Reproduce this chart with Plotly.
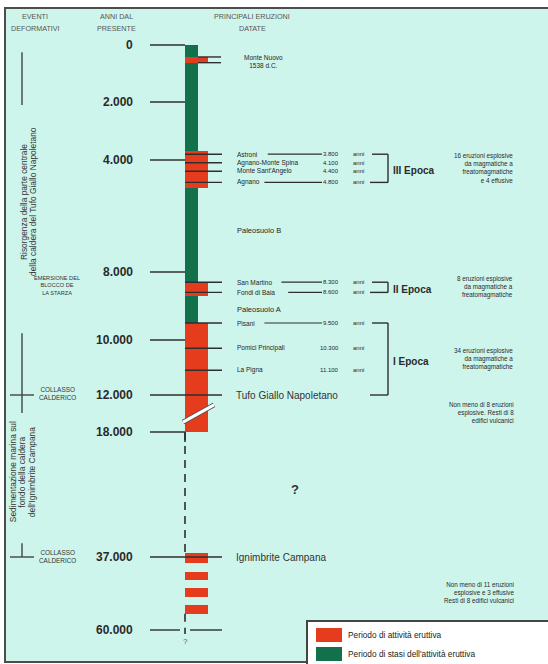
import numpy as np
import plotly.graph_objects as go

# ------------------------------------------------------------------ data
TICK_YEARS = [0, 2000, 4000, 8000, 10000, 12000, 18000, 37000, 60000]
TICK_LABELS = ["0", "2.000", "4.000", "8.000", "10.000", "12.000", "18.000", "37.000", "60.000"]

# periods of eruptive activity (years before present)
ACTIVE_START = [420, 3700, 8300, 9500, 36400, 41700, 46800, 52100]
ACTIVE_END = [620, 5000, 8700, 18000, 38900, 44200, 49600, 54900]
# periods of quiescence
STASIS_START = [0, 5000, 8700]
STASIS_END = [3700, 8300, 9500]

MONTE_NUOVO_YEARS = [420, 620]
MONTE_NUOVO_LABEL = "Monte Nuovo<br>1538 d.C."

ERUPTION_NAMES = ["Astroni", "Agnano-Monte Spina", "Monte Sant'Angelo", "Agnano",
                  "San Martino", "Fondi di Baia", "Pisani", "Pomici Principali", "La Pigna"]
ERUPTION_YEARS = [3800, 4100, 4400, 4800, 8300, 8600, 9500, 10300, 11100]
ERUPTION_YEAR_LABELS = ["3.800", "4.100", "4.400", "4.800", "8.300", "8.600",
                        "9.500", "10.300", "11.100"]
ERUPTION_LEADER = [True, False, False, True, True, True, True, False, False]

EPOCH_NAMES = ["III Epoca", "II Epoca", "I Epoca"]
EPOCH_START = [3800, 8300, 9500]
EPOCH_END = [4800, 8600, 12000]
EPOCH_NOTES = ["16 eruzioni esplosive<br>da magmatiche a<br>freatomagmatiche<br>e 4 effusive",
               "8 eruzioni esplosive<br>da magmatiche a<br>freatomagmatiche",
               "34 eruzioni esplosive<br>da magmatiche a<br>freatomagmatiche"]

KEY_UNITS = ["Tufo Giallo Napoletano", "Ignimbrite Campana"]
KEY_UNIT_YEARS = [12000, 37000]

PALEOSOL_NAMES = ["Paleosuolo B", "Paleosuolo A"]
PALEOSOL_YEARS = [6500, 9100]

OTHER_NOTES = ["Non meno di 8 eruzioni<br>esplosive. Resti di 8<br>edifici vulcanici",
               "Non meno di 11 eruzioni<br>esplosive e 3 effusive<br>Resti di 8 edifici vulcanici"]
OTHER_NOTE_YEARS = [14900, 48300]

DEFORM_NAMES = ["EMERSIONE DEL<br>BLOCCO DE<br>LA STARZA", "COLLASSO<br>CALDERICO", "COLLASSO<br>CALDERICO"]
DEFORM_YEARS = [8400, 11950, 36950]

PHASE_LINES = [["Risorgenza della parte centrale", "della caldera del Tufo Giallo Napoletano"],
               ["Sedimentazione marina sul", "fondo della caldera", "dell'Ignimbrite Campana"]]
PHASE_CENTER_YEARS = [5500, 24100]
PHASE_RANGE_START = [250, 9800, 34900]
PHASE_RANGE_END = [2100, 14900, 37000]
CROSS_YEARS = [12000, 37000]

UNKNOWN_YEAR = 26800
BREAK_YEARS = [16400, 13600]

HEADERS = [["EVENTI", "DEFORMATIVI"], ["ANNI DAL", "PRESENTE"], ["PRINCIPALI ERUZIONI", "DATATE"]]
LEGEND_LABELS = ["Periodo di attività eruttiva", "Periodo di stasi dell'attività eruttiva"]

# ------------------------------------------------------------------ style / scale
W, H = 548, 664
SCALE_PX = [45, 102, 160, 272, 340, 395, 432, 557, 630]   # vertical scale of the diagram
RED = "#e63c1e"
GREEN = "#12714b"
BG = "#cef5ec"
INK = "#2e2e2e"
FONT = "Liberation Sans, Arial, sans-serif"

COL_L = 185
GREEN_W = 13
RED_W = 23


def ypos(year):
    return float(np.interp(year, TICK_YEARS, SCALE_PX))


shapes = []
annotations = []


def line(x0, y0, x1, y1, color=INK, width=1.4, dash=None, layer="above"):
    ln = dict(color=color, width=width)
    if dash:
        ln["dash"] = dash
    shapes.append(dict(type="line", xref="x", yref="y", x0=x0, y0=y0, x1=x1, y1=y1,
                       line=ln, layer=layer))


def rect(x0, y0, x1, y1, fill, lc=None, lw=0, layer="above"):
    shapes.append(dict(type="rect", xref="x", yref="y", x0=x0, y0=y0, x1=x1, y1=y1,
                       fillcolor=fill, line=dict(color=lc or fill, width=lw), layer=layer))


def text(x, y, s, size, xanchor="left", bold=False, color=INK, angle=0, align="left"):
    annotations.append(dict(x=x, y=y, xref="x", yref="y", text=f"<b>{s}</b>" if bold else s,
                            showarrow=False, xanchor=xanchor, yanchor="middle",
                            font=dict(family=FONT, size=size, color=color),
                            textangle=angle, align=align, borderpad=0))


fig = go.Figure()

# background frame (open on the right side)
rect(5, 8, 560, 662, BG, "#4d4d4d", 2, layer="below")

# column bars
fig.add_trace(go.Bar(x=[COL_L + GREEN_W / 2] * len(STASIS_START),
                     base=[ypos(s) for s in STASIS_START],
                     y=[ypos(e) - ypos(s) for s, e in zip(STASIS_START, STASIS_END)],
                     width=[GREEN_W] * len(STASIS_START),
                     marker=dict(color=GREEN, line=dict(width=0)), hoverinfo="skip"))
fig.add_trace(go.Bar(x=[COL_L + RED_W / 2] * len(ACTIVE_START),
                     base=[ypos(s) for s in ACTIVE_START],
                     y=[ypos(e) - ypos(s) for s, e in zip(ACTIVE_START, ACTIVE_END)],
                     width=[RED_W] * len(ACTIVE_START),
                     marker=dict(color=RED, line=dict(width=0)), hoverinfo="skip"))

# headers
HEADER_X = [35, 116, 252]
for hx, (l1, l2) in zip(HEADER_X, HEADERS):
    text(hx, 16, l1, 7.2, xanchor="center", color="#555555")
    text(hx, 28, l2, 7.2, xanchor="center", color="#555555")

# time scale
for yr, lab in zip(TICK_YEARS, TICK_LABELS):
    y = ypos(yr)
    text(134, y, lab, 12, xanchor="right", bold=True, color="#2a2a2a")
    if yr in (12000, 37000):
        line(150, y, 222, y)
    elif yr == 60000:
        line(150, y, 180, y)
        line(190, y, 222, y)
    else:
        line(150, y, COL_L, y)

# dashed part of the column
line(COL_L, ypos(18000), COL_L, ypos(18000) + 10, width=1.6)
line(COL_L, ypos(18000), COL_L, ypos(ACTIVE_START[4]), width=1.6, dash="8px,6px")
line(COL_L, ypos(ACTIVE_END[-1]), COL_L, ypos(60000) + 4, width=1.6, dash="8px,6px")
text(COL_L, ypos(60000) + 11, "?", 8, xanchor="center", color="#555555")

# break mark
line(183, ypos(BREAK_YEARS[0]), 214, ypos(BREAK_YEARS[1]), color="#555555", width=5)
line(183, ypos(BREAK_YEARS[0]), 214, ypos(BREAK_YEARS[1]), color="white", width=3)

# Monte Nuovo
for yr in MONTE_NUOVO_YEARS:
    line(COL_L + GREEN_W, ypos(yr), 221, ypos(yr))
text(263, ypos(sum(MONTE_NUOVO_YEARS) / 2) + 1.5, MONTE_NUOVO_LABEL, 6.5,
     xanchor="center", align="center", color="#1e1e1e")

# eruptions
for name, yr, ylab, lead in zip(ERUPTION_NAMES, ERUPTION_YEARS, ERUPTION_YEAR_LABELS, ERUPTION_LEADER):
    y = ypos(yr)
    line(COL_L, y, 222, y)
    text(236, y, name, 6.5, color="#1e1e1e")
    if lead:
        line(236 + 3.4 * len(name) + 8, y, 322, y, width=1.2)
    text(340, y, ylab, 6, xanchor="right", color="#1e1e1e")
    text(352, y, "anni", 6, color="#1e1e1e")

# epochs with brackets
for name, s, e, note in zip(EPOCH_NAMES, EPOCH_START, EPOCH_END, EPOCH_NOTES):
    y0, y1 = ypos(s), ypos(e)
    line(372, y0, 388, y0)
    line(370, y1, 388, y1)
    line(388, y0, 388, y1)
    ym = (y0 + y1) / 2
    text(392, ym + 2, name, 10, bold=True, color="#2a2a2a")
    text(514, ym, note, 6.3, xanchor="right", align="right", color="#2a2a2a")

# key units and paleosols
for name, yr in zip(KEY_UNITS, KEY_UNIT_YEARS):
    text(235, ypos(yr), name, 10, color="#333333")
for name, yr in zip(PALEOSOL_NAMES, PALEOSOL_YEARS):
    text(236, ypos(yr), name, 7.5, color="#1e1e1e")

for note, yr in zip(OTHER_NOTES, OTHER_NOTE_YEARS):
    text(515, ypos(yr), note, 6.3, xanchor="right", align="right", color="#2a2a2a")

text(295, ypos(UNKNOWN_YEAR), "?", 13, xanchor="center", bold=True, color="#333333")

# deformation events (left)
for name, yr in zip(DEFORM_NAMES, DEFORM_YEARS):
    size = 5.6 if name.startswith("EMERSIONE") else 6.4
    text(57, ypos(yr), name, size, xanchor="center", align="center", color="#333333")

for s, e in zip(PHASE_RANGE_START, PHASE_RANGE_END):
    line(22, ypos(s), 22, ypos(e), color="#444444", width=1.4)
for yr in CROSS_YEARS:
    line(10, ypos(yr), 34, ypos(yr), color="#444444", width=1.4)

PHASE_X = [[24, 33], [13, 22.5, 32]]
for lines_, xs, yr in zip(PHASE_LINES, PHASE_X, PHASE_CENTER_YEARS):
    for t, x in zip(lines_, xs):
        text(x, ypos(yr), t, 8.4, xanchor="center", angle=-90, color="#333333")

# legend box
rect(307, 621, 560, 672, "white", "#444444", 2)
rect(316, 628, 342, 642, RED)
rect(316, 647, 342, 661, GREEN)
text(347, 635, LEGEND_LABELS[0], 8.3, color="#222222")
text(347, 654, LEGEND_LABELS[1], 8.3, color="#222222")

fig.update_layout(
    width=W, height=H, margin=dict(l=0, r=0, t=0, b=0),
    paper_bgcolor="white", plot_bgcolor="white",
    showlegend=False, barmode="overlay", bargap=0,
    xaxis=dict(range=[0, W], visible=False, fixedrange=True),
    yaxis=dict(range=[H, 0], visible=False, fixedrange=True),
    shapes=shapes, annotations=annotations,
)

fig.write_html("out.html", config={"displayModeBar": False},
               post_script="document.body.style.margin='0';document.body.style.overflow='hidden';")
